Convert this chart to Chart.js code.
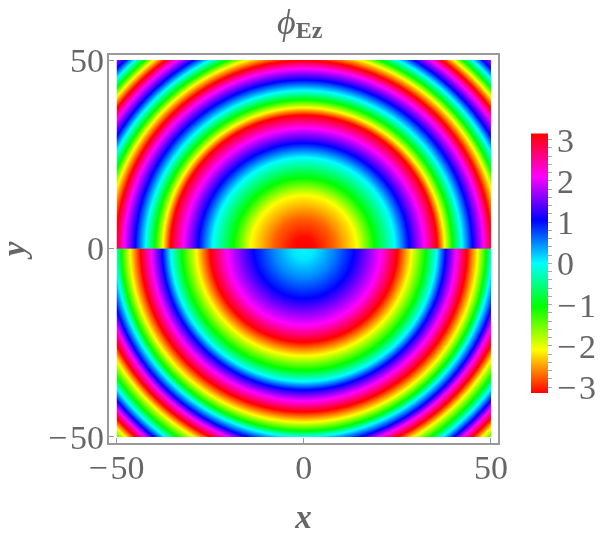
<!DOCTYPE html>
<html>
<head>
<meta charset="utf-8">
<script src="https://cdn.jsdelivr.net/npm/chart.js"></script>
<style>
body{margin:0;background:#fff}
#wrap{position:relative;width:600px;height:535px;overflow:hidden}
#chart{position:absolute;left:0;top:0}
#bar{position:absolute;left:500px;top:110px}
#title{position:absolute;left:277px;top:-3px;color:#666;font-family:"Liberation Serif",serif;white-space:nowrap}
#title i{font-size:36px;line-height:50px}
#title b{font-size:24px;position:relative;top:4px}
</style>
</head>
<body>
<div id="wrap">
<canvas id="chart" width="600" height="535"></canvas>
<canvas id="bar" width="100" height="300"></canvas>
<div id="title"><i>ϕ</i><b>Ez</b></div>
</div>
<script>
// phase read along a radius, y > 0 and y < 0
const upperRadius = [0, 3, 8, 14.2, 18.8, 24.3, 28.1, 32.1, 35.6, 37.6, 39.7, 42.2, 45, 48, 50.2, 52.5, 54.2, 56.2, 58.2, 60.6, 62.4, 64.3, 65.8, 67.5, 69.3, 70.8]
const upperPhase = [-3.14, -3.1, -2.75, -2.09, -1.05, 0, 1.05, 2.09, 3.14, -2.09, -1.05, 0, 1.05, 2.09, 3.14, -2.09, -1.05, 0, 1.05, 2.09, 3.14, -2.09, -1.05, 0, 1.05, 1.7]
const lowerRadius = [0, 3, 8, 13.4, 20.5, 25, 28.7, 32.5, 35.5, 37.8, 40.7, 43.6, 46.4, 48.7, 50.3, 52.5, 54.2, 56.2, 58.2, 60.6, 62.4, 64.3, 65.8, 67.5, 69.3, 70.8]
const lowerPhase = [0.02, 0.1, 0.5, 1.05, 2.09, 3.14, -2.09, -1.05, 0, 1.05, 2.09, 3.14, -2.09, -1.05, 0, 1.05, 2.09, 3.14, -2.09, -1.05, 0, 1.05, 2.09, 3.14, -2.09, -1.35]
const colorbarPhase = [-3.14, -2.09, -1.05, 0, 1.05, 2.09, 3.14]
const axisTicks = [-50, 0, 50]
const plotEdge = 50

const grey = '#666'
const tickFont = {family: '"Liberation Serif", serif', size: 34}
const titleFont = {family: '"Liberation Serif", serif', size: 33, style: 'italic', weight: 'bold'}

function phaseColor(phi){
    return `hsl(${(phi+Math.PI)/(2*Math.PI)*360}, 100%, 50%)`
}

function minus(v){
    return String(v).replace('-', '\u2212\u200a')
}

function radialFill(radius, phase){
    return function(ctx){
        const chart = ctx.chart
        if(!chart.chartArea) return 'transparent'
        const cx = chart.scales.x.getPixelForValue(0)
        const cy = chart.scales.y.getPixelForValue(0)
        const last = radius[radius.length-1]
        const r = chart.scales.x.getPixelForValue(last)-cx
        const g = chart.ctx.createRadialGradient(cx, cy, 0, cx, cy, r)
        radius.forEach((v, i) => g.addColorStop(v/last, phaseColor(phase[i])))
        return g
    }
}

const framePlugin = {
    id: 'frame',
    afterDraw(chart){
        const a = chart.chartArea
        const c = chart.ctx
        c.save()
        c.strokeStyle = '#999'
        c.lineWidth = 2
        c.strokeRect(a.left, a.top, a.width, a.height)
        c.restore()
    }
}

new Chart(document.getElementById('chart'), {
    type: 'scatter',
    plugins: [framePlugin],
    data: {
        datasets: [
            {data: [{x: -plotEdge, y: plotEdge}, {x: plotEdge, y: plotEdge}], showLine: true, fill: 'origin', borderWidth: 0, pointRadius: 0, backgroundColor: radialFill(upperRadius, upperPhase)},
            {data: [{x: -plotEdge, y: -plotEdge}, {x: plotEdge, y: -plotEdge}], showLine: true, fill: 'origin', borderWidth: 0, pointRadius: 0, backgroundColor: radialFill(lowerRadius, lowerPhase)},
            {data: [{x: -plotEdge, y: 0}, {x: plotEdge, y: 0}], showLine: true, borderWidth: 1, borderColor: '#8a8a8a', pointRadius: 0}
        ]
    },
    options: {
        responsive: false,
        animation: false,
        layout: {padding: {top: 54, right: 101}},
        plugins: {legend: {display: false}, tooltip: {enabled: false}},
        scales: {
            x: {
                min: -52.27,
                max: 52.14,
                afterBuildTicks: s => { s.ticks = axisTicks.map(v => ({value: v})) },
                afterFit: s => { s.height = 91 },
                border: {display: false},
                grid: {drawOnChartArea: false, tickLength: -6, tickColor: '#999', tickWidth: 1},
                ticks: {color: grey, font: tickFont, padding: 12, maxRotation: 0, callback: minus},
                title: {display: true, text: 'x', color: grey, font: titleFont, padding: {top: 0, bottom: -4}}
            },
            y: {
                min: -51.86,
                max: 51.6,
                afterBuildTicks: s => { s.ticks = axisTicks.map(v => ({value: v})) },
                afterFit: s => { s.width = 108 },
                border: {display: false},
                grid: {drawOnChartArea: false, tickLength: -6, tickColor: '#999', tickWidth: 1},
                ticks: {color: grey, font: tickFont, padding: 10, labelOffset: 3, callback: minus},
                title: {display: true, text: 'y', color: grey, font: titleFont, padding: {top: -3, bottom: 0}}
            }
        }
    }
})

function colorbarFill(ctx){
    const chart = ctx.chart
    if(!chart.chartArea) return 'transparent'
    const s = chart.scales.y
    const g = chart.ctx.createLinearGradient(0, s.getPixelForValue(colorbarPhase[0]), 0, s.getPixelForValue(colorbarPhase[colorbarPhase.length-1]))
    colorbarPhase.forEach((v, i) => g.addColorStop(i/(colorbarPhase.length-1), phaseColor(v)))
    return g
}

new Chart(document.getElementById('bar'), {
    type: 'bar',
    data: {
        labels: ['phase'],
        datasets: [{data: [[colorbarPhase[0], colorbarPhase[colorbarPhase.length-1]]], backgroundColor: colorbarFill, barPercentage: 1, categoryPercentage: 1, borderWidth: 0}]
    },
    options: {
        responsive: false,
        animation: false,
        layout: {padding: {left: 31, top: 23, bottom: 17}},
        plugins: {legend: {display: false}, tooltip: {enabled: false}},
        scales: {
            x: {display: false},
            y: {
                position: 'right',
                min: -3.14,
                max: 3.16,
                afterFit: s => { s.width = 52; s.paddingTop = 0; s.paddingBottom = 0 },
                border: {display: false},
                grid: {drawOnChartArea: false, tickLength: 4, tickColor: '#aaa'},
                ticks: {
                    stepSize: 0.2,
                    autoSkip: false,
                    includeBounds: false,
                    color: grey,
                    padding: 5,
                    labelOffset: 3,
                    font: {family: '"Liberation Serif", serif', size: 34},
                    callback: v => Math.abs(v-Math.round(v)) < 0.01 ? minus(Math.round(v)) : ''
                }
            }
        }
    }
})
</script>
</body>
</html>
